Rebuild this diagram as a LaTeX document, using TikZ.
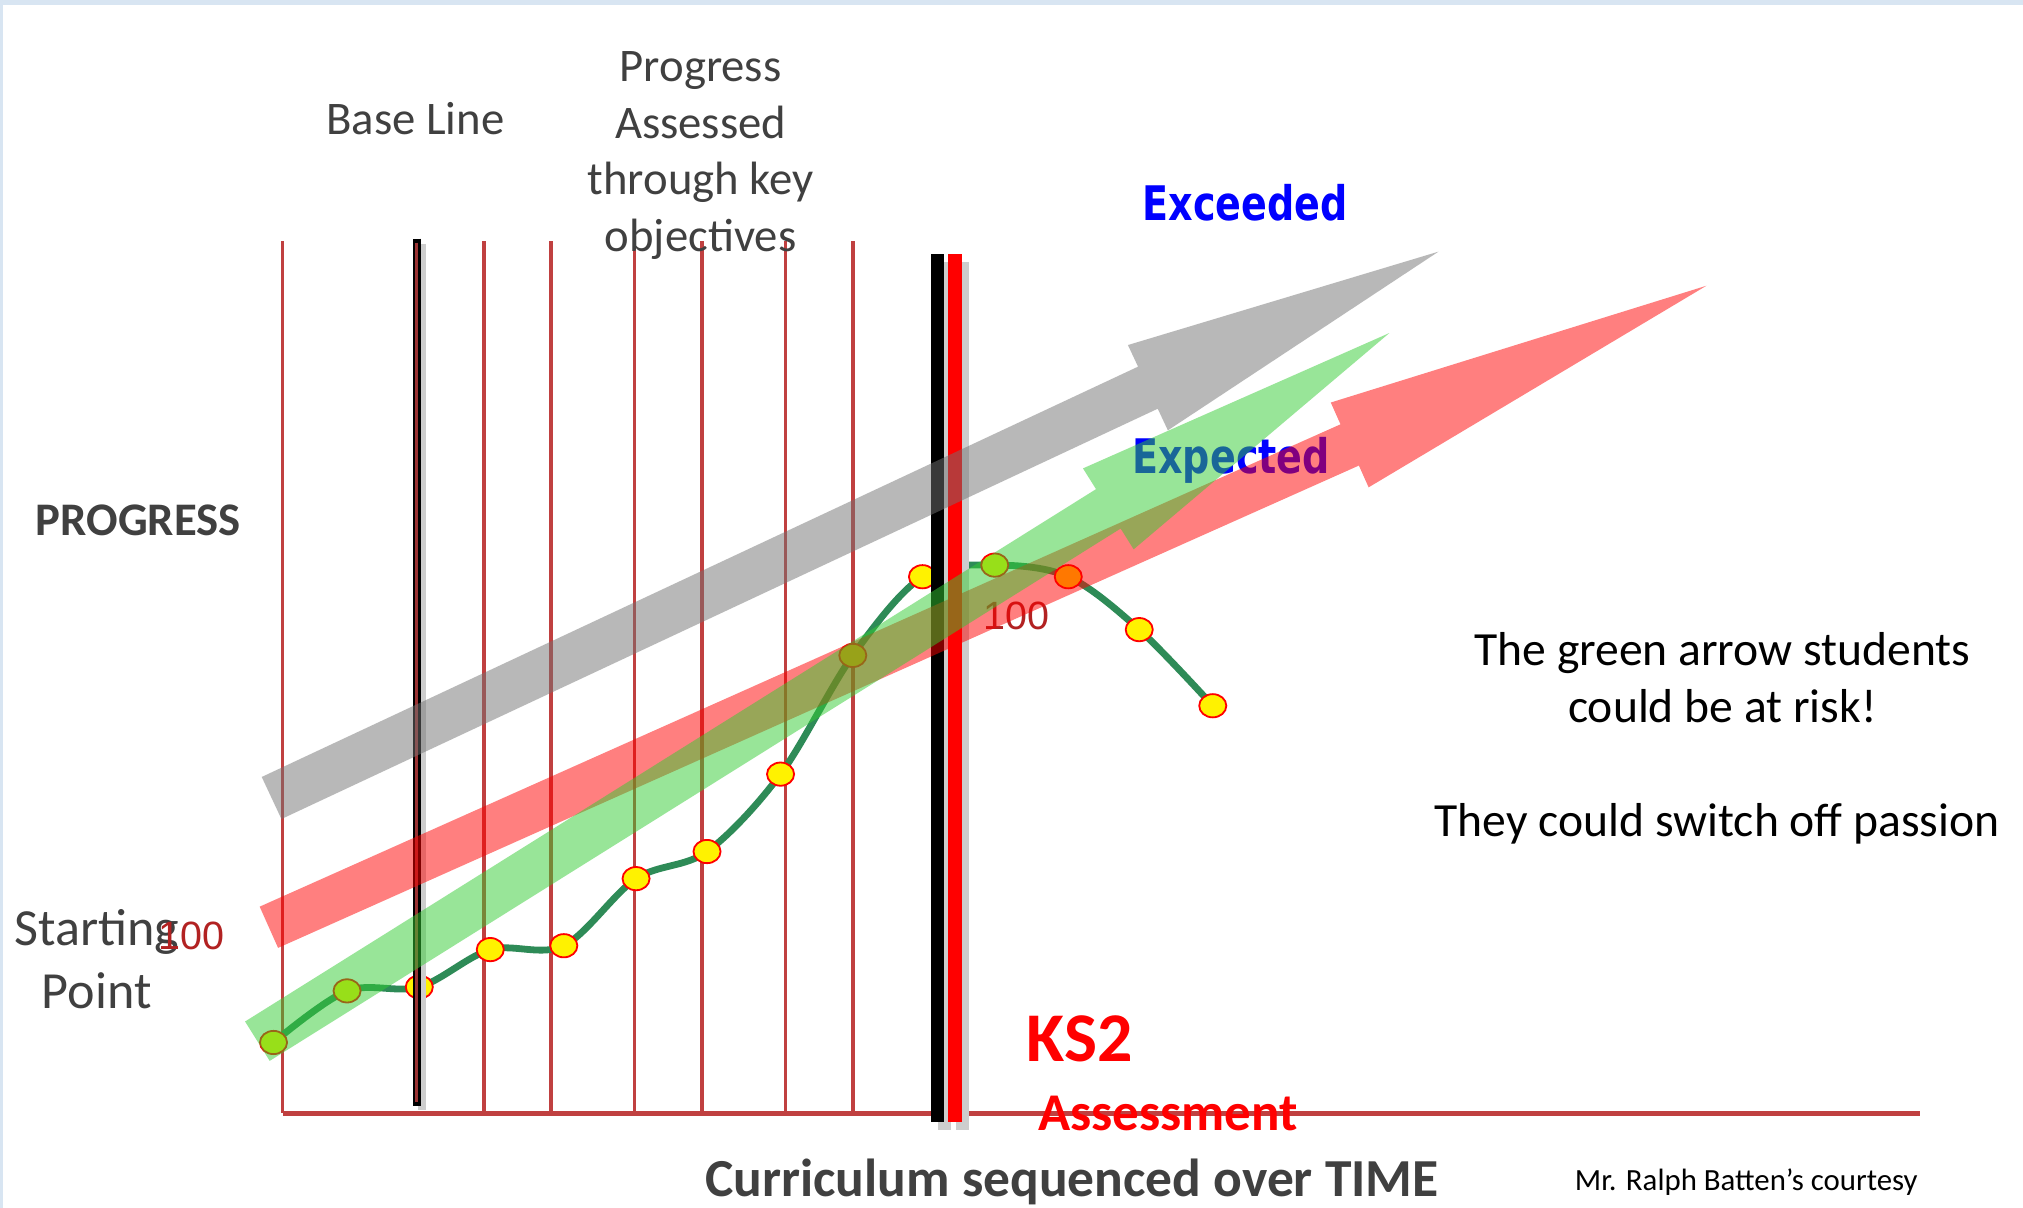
\documentclass[tikz,border=0pt]{standalone}
\usepackage{fontspec}
\setmainfont{Carlito}
\newfontfamily\wordfont[FakeStretch=0.8]{DejaVu Sans}
\newfontfamily\numfont{Liberation Sans}
\usetikzlibrary{shapes.geometric}

\definecolor{framebg}{RGB}{216,229,242}
\definecolor{gridred}{RGB}{192,64,64}
\definecolor{txtgray}{RGB}{64,64,64}
\definecolor{curvegreen}{RGB}{46,139,87}
\definecolor{arrgray}{RGB}{115,115,115}
\definecolor{arrgreen}{RGB}{50,205,50}
\definecolor{numred}{RGB}{178,34,34}
\definecolor{shadowgray}{RGB}{205,205,205}

\begin{document}
\begin{tikzpicture}[x=0.1mm, y=-0.1mm,
  txt/.style={inner sep=0pt, text=txtgray, font=\fontsize{10.3}{12.5}\selectfont},
  grid/.style={gridred, line width=0.75pt},
  dot/.style={ellipse, draw=red, fill=yellow, line width=0.4pt,
    minimum width=2.1mm, minimum height=1.8mm, inner sep=0pt},
  fatarrow/.style={fill opacity=0.5}]

  \useasboundingbox (0,0) rectangle (1568,936);
  \fill[white] (0,0) rectangle (1568,936);
  \fill[framebg] (0,0) rectangle (1568,4);
  \fill[framebg] (0,0) rectangle (2,936);

  % time grid
  \foreach \x in {219,375,427,492,544,609,661}
    \draw[grid] (\x,187) -- (\x,863);
  \draw[gridred, line width=1pt] (219,863) -- (1488,863);

  % pupil track
  \foreach \px/\py [count=\i] in {212/808, 269/768, 325/765, 380/736, 437/733,
      493/681, 548/660, 605/600, 661/508, 715/447, 771/438, 828/447, 883/488, 940/547}
    \coordinate (p\i) at (\px,\py);
  \draw[curvegreen, line width=1.5pt] plot[smooth, tension=0.55] coordinates
    {(p1) (p2) (p3) (p4) (p5) (p6) (p7) (p8) (p9) (p10) (p11) (p12) (p13) (p14)};
  \foreach \i in {1,...,14}
    \node[dot] (d\i) at (p\i) {};

  % base line and KS2 markers
  \draw[shadowgray, line width=1.7pt] (327,189) -- (327,860);
  \draw[black, line width=1.7pt] (323,185) -- (323,857);
  \draw[gridred!80!black, line width=0.6pt] (323,188) -- (323,854);
  \draw[shadowgray, line width=3pt] (732,203) -- (732,876);
  \draw[shadowgray, line width=3pt] (746,203) -- (746,876);
  \draw[black, line width=3pt] (726.5,197) -- (726.5,870);
  \draw[red, line width=3pt] (740,197) -- (740,870);

  \node[anchor=base west, inner sep=0pt, text=blue,
    font=\wordfont\bfseries\fontsize{10.5}{12}\selectfont] (expected) at (877,367) {Expected};
  \node[anchor=base, inner sep=0pt, text=numred,
    font=\numfont\fontsize{8.7}{10}\selectfont] (hundredB) at (788,488) {100};

  % progress arrows
  \begin{scope}[shift={(210.5,618.5)}, rotate=25.09]
    \fill[arrgray, fatarrow] (0,-18) -- (750,-18) -- (750,-36.5) -- (998.7,0)
      -- (750,36.5) -- (750,18) -- (0,18) -- cycle;
  \end{scope}
  \begin{scope}[shift={(208.4,718.7)}, rotate=24.05]
    \fill[red, fatarrow] (0,-17.5) -- (917.4,-17.5) -- (917.4,-36) -- (1220.2,0)
      -- (917.4,36) -- (917.4,17.5) -- (0,17.5) -- cycle;
  \end{scope}
  \begin{scope}[shift={(199.5,807)}, rotate=32.03]
    \fill[arrgreen, fatarrow] (0,-18) -- (778,-18) -- (778,-37) -- (1035,0)
      -- (778,37) -- (778,18) -- (0,18) -- cycle;
  \end{scope}

  % labels
  \node[txt, anchor=base] (baseline) at (322,104) {Base Line};
  \node[txt, anchor=base, align=center] (assessed) at (543,195)
    {Progress\\Assessed\\through key\\objectives};
  \node[txt, anchor=base west, font=\bfseries\fontsize{10.3}{12.5}\selectfont]
    (progress) at (27,415) {PROGRESS};
  \node[anchor=base west, inner sep=0pt, text=blue,
    font=\wordfont\bfseries\fontsize{10.5}{12}\selectfont] (exceeded) at (885,171) {Exceeded};
  \node[txt, anchor=base, align=center, font=\fontsize{11.5}{14}\selectfont]
    (start) at (75,782) {Starting\\Point};
  \node[anchor=base, inner sep=0pt, text=numred,
    font=\numfont\fontsize{8.7}{10}\selectfont] (hundredA) at (148.5,736) {100};
  \node[anchor=base, inner sep=0pt, align=center, font=\fontsize{10.5}{12.5}\selectfont]
    (risk) at (1335,560) {The green arrow students\\could be at risk!};
  \node[anchor=base, inner sep=0pt, font=\fontsize{10.5}{12.5}\selectfont]
    (passion) at (1331,648) {They could switch off passion};
  \node[anchor=base west, inner sep=0pt, text=red,
    font=\bfseries\fontsize{15.4}{18}\selectfont] (ks2) at (795,823) {KS2};
  \node[anchor=base west, inner sep=0pt, text=red,
    font=\bfseries\fontsize{11.7}{14}\selectfont] (assess) at (804,876) {Assessment};
  \node[txt, anchor=base west, font=\bfseries\fontsize{11.8}{14}\selectfont]
    (time) at (546,927) {Curriculum sequenced over TIME};
  \node[anchor=base west, inner sep=0pt, font=\fontsize{6.8}{8}\selectfont]
    (courtesy) at (1220,923) {Mr. Ralph Batten’s courtesy};
\end{tikzpicture}
\end{document}
